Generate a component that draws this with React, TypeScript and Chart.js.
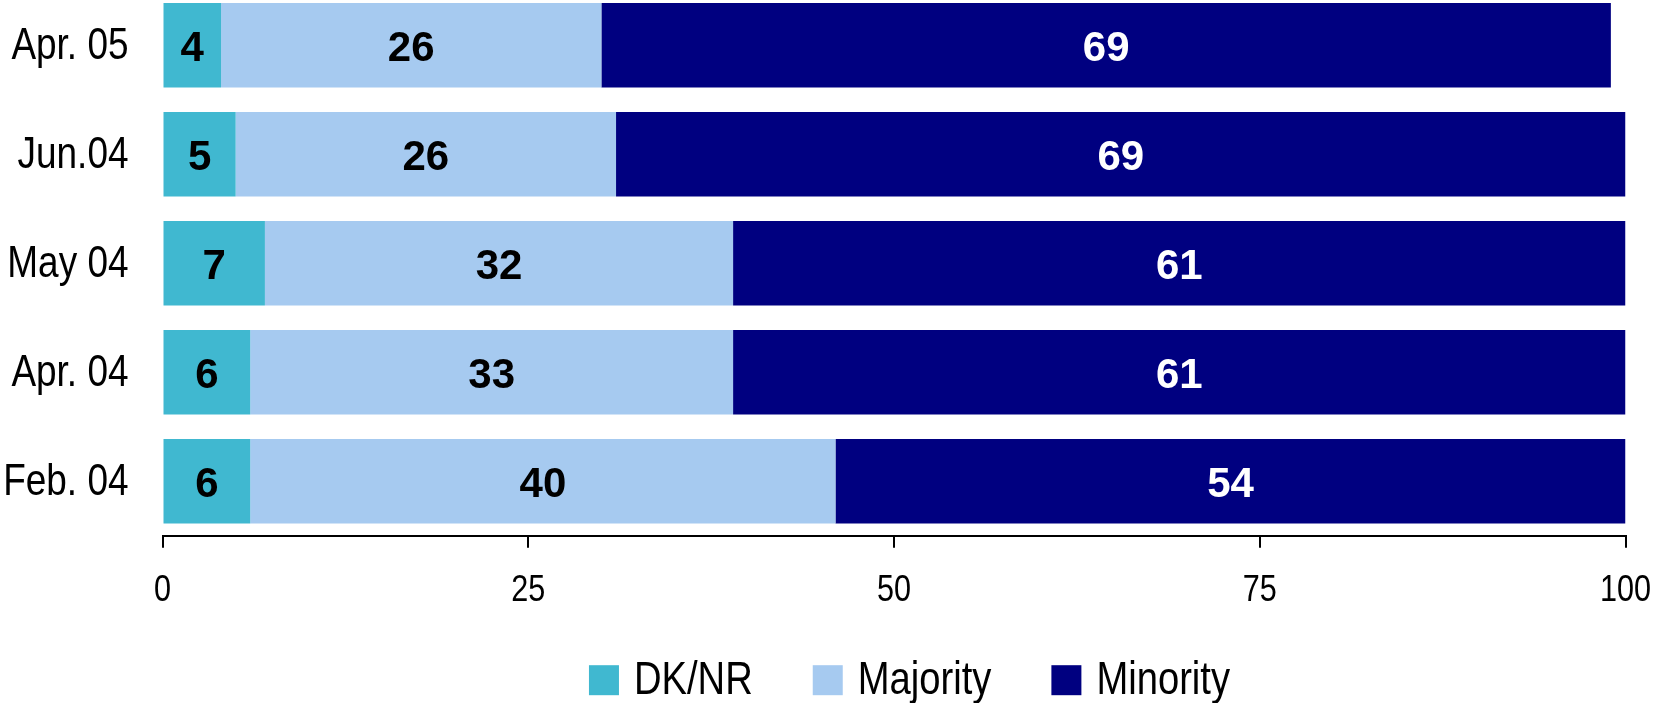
import React, { useEffect, useRef } from 'react';
import { Chart, registerables } from 'chart.js';

Chart.register(...registerables);

const categories = ['Apr. 05', 'Jun.04', 'May 04', 'Apr. 04', 'Feb. 04'];
const dkNr = [4, 5, 7, 6, 6];
const majority = [26, 26, 32, 33, 40];
const minority = [69, 69, 61, 61, 54];
const xTicks = [0, 25, 50, 75, 100];
const seriesNames = ['DK/NR', 'Majority', 'Minority'];
const seriesColors = ['#40B8D0', '#A6CAF0', '#000080'];
const labelColors = ['#000000', '#000000', '#FFFFFF'];

const SANS = '"Liberation Sans", Arial, sans-serif';

function drawNarrow(ctx: CanvasRenderingContext2D, text: string, x: number, y: number, align: CanvasTextAlign, sx: number) {
  ctx.save();
  ctx.translate(x, y);
  ctx.scale(sx, 1);
  ctx.textAlign = align;
  ctx.textBaseline = 'alphabetic';
  ctx.fillText(text, 0, 0);
  ctx.restore();
}

const segLabels = {
  id: 'segLabels',
  afterDatasetsDraw(chart: any) {
    const ctx = chart.ctx;
    ctx.save();
    ctx.font = `bold 42px ${SANS}`;
    ctx.textAlign = 'center';
    ctx.textBaseline = 'alphabetic';
    chart.data.datasets.forEach((ds: any, di: number) => {
      const meta = chart.getDatasetMeta(di);
      ctx.fillStyle = labelColors[di];
      meta.data.forEach((bar: any, i: number) => {
        const p = bar.getProps(['x', 'y', 'base'], true);
        ctx.fillText(String(ds.data[i]), (p.x + p.base) / 2, p.y + 15.5);
      });
    });
    ctx.restore();
  },
};

const narrowText = {
  id: 'narrowText',
  afterDraw(chart: any) {
    const ctx: CanvasRenderingContext2D = chart.ctx;
    const area = chart.chartArea;
    const xs = chart.scales.x;
    const ys = chart.scales.y;
    ctx.save();
    ctx.fillStyle = '#000000';

    // category labels
    ctx.font = `44px ${SANS}`;
    chart.data.labels.forEach((lab: string, i: number) => {
      const y = ys.getPixelForTick(i);
      drawNarrow(ctx, lab, area.left - 34, y + 14, 'right', 0.84);
    });

    // x tick labels
    ctx.font = `36px ${SANS}`;
    xTicks.forEach((v) => {
      drawNarrow(ctx, String(v), xs.getPixelForValue(v), area.bottom + 65.5, 'center', 0.85);
    });

    // legend
    ctx.font = `46px ${SANS}`;
    const sx = 0.83;
    const box = 30;
    const textGap = 15;
    const itemGap = 60;
    const widths = chart.data.datasets.map((ds: any) => box + textGap + ctx.measureText(ds.label).width * sx);
    const total = widths.reduce((a: number, b: number) => a + b, 0) + itemGap * (widths.length - 1);
    let x = (area.left + area.right) / 2 + 15.5 - total / 2;
    const boxTop = area.bottom + 129.5;
    chart.data.datasets.forEach((ds: any, i: number) => {
      ctx.fillStyle = ds.backgroundColor;
      ctx.fillRect(x, boxTop, box, box);
      ctx.fillStyle = '#000000';
      drawNarrow(ctx, ds.label, x + box + textGap, boxTop + 28.5, 'left', sx);
      x += widths[i] + itemGap;
    });
    ctx.restore();
  },
};

export default function App() {
  const ref = useRef<HTMLCanvasElement | null>(null);

  useEffect(() => {
    if (!ref.current) return;
    const values = [dkNr, majority, minority];
    const chart = new Chart(ref.current, {
      type: 'bar',
      data: {
        labels: categories,
        datasets: values.map((v, i) => ({
          label: seriesNames[i],
          data: v,
          backgroundColor: seriesColors[i],
          borderWidth: 0,
          categoryPercentage: 0.775,
          barPercentage: 1,
        })),
      },
      options: {
        indexAxis: 'y',
        responsive: false,
        animation: false,
        devicePixelRatio: 1,
        layout: { padding: { top: 10.7, right: 27.5, bottom: 84.3, left: 0 } },
        plugins: {
          tooltip: { enabled: false },
          legend: { display: false },
        },
        scales: {
          x: {
            type: 'linear',
            stacked: true,
            min: 0,
            max: 100,
            afterBuildTicks: (s: any) => {
              s.ticks = xTicks.map((v) => ({ value: v }));
            },
            afterFit: (s: any) => {
              s.height = 100;
              s.paddingLeft = 0;
              s.paddingRight = 0;
            },
            grid: {
              display: true,
              drawOnChartArea: false,
              drawTicks: true,
              tickLength: 12,
              color: '#000000',
              lineWidth: 2,
            },
            border: { display: true, color: '#000000', width: 2 },
            ticks: { display: false },
          },
          y: {
            type: 'category',
            stacked: true,
            afterFit: (s: any) => {
              s.width = 162.5;
              s.paddingTop = 0;
              s.paddingBottom = 0;
            },
            grid: { display: false, drawTicks: false },
            border: { display: false },
            ticks: { display: false },
          },
        },
      },
      plugins: [segLabels, narrowText],
    });
    return () => chart.destroy();
  }, []);

  return (
    <div style={{ position: 'fixed', left: 0, top: -20, width: 1653, height: 740 }}>
      <canvas ref={ref} width={1653} height={740} style={{ display: 'block' }} />
    </div>
  );
}
